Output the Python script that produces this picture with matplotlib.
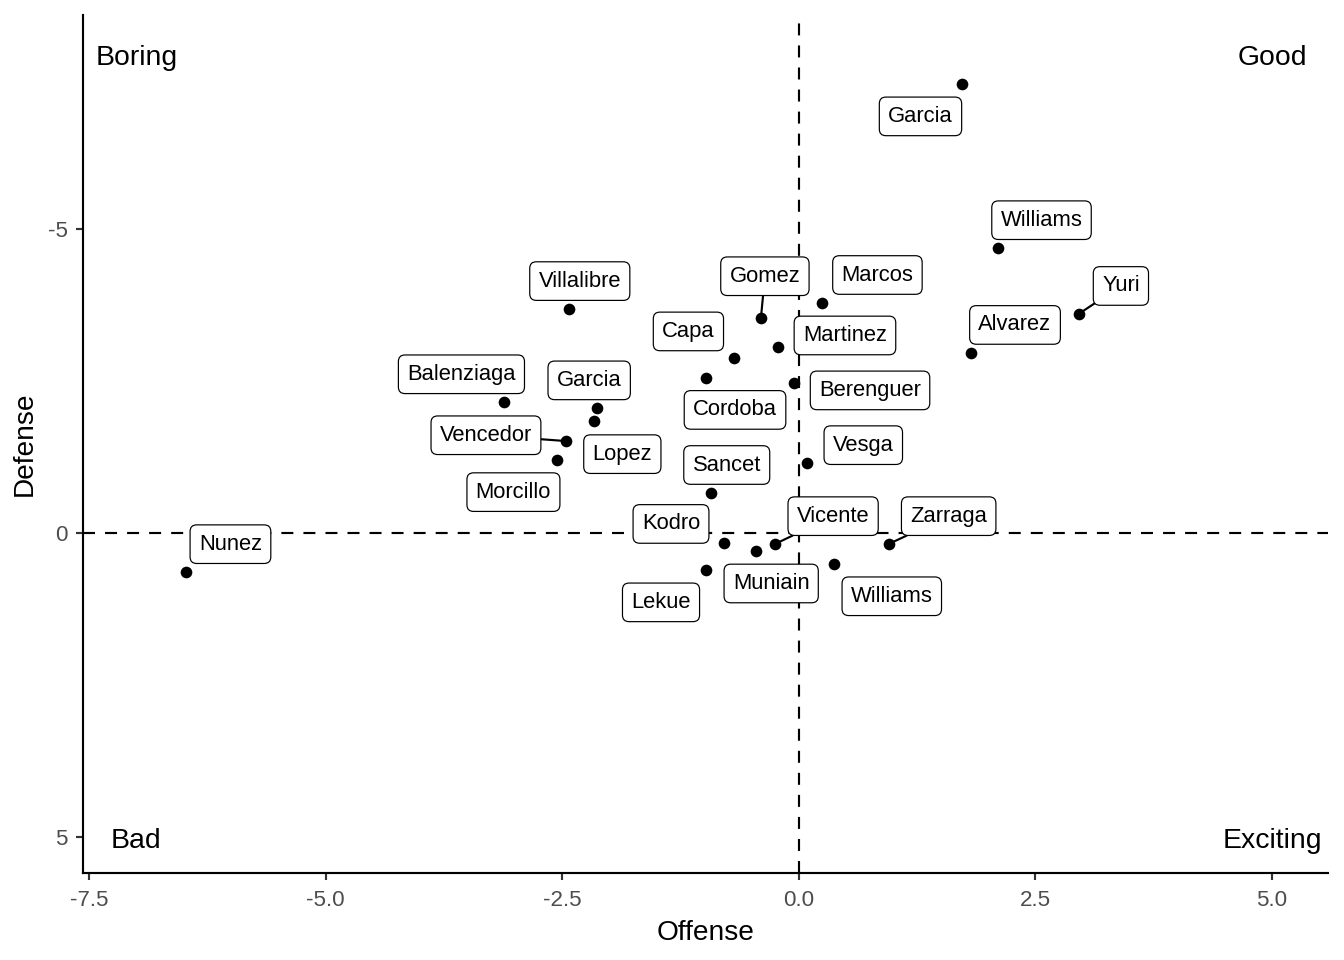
import matplotlib
matplotlib.use("Agg")
import matplotlib.pyplot as plt

plt.rcParams['font.family'] = ['Liberation Sans', 'DejaVu Sans']

names = ["Garcia", "Williams", "Yuri", "Alvarez", "Marcos", "Gomez", "Martinez",
         "Capa", "Villalibre", "Cordoba", "Berenguer", "Balenziaga", "Garcia",
         "Lopez", "Vencedor", "Morcillo", "Vesga", "Sancet", "Kodro", "Vicente",
         "Muniain", "Zarraga", "Williams", "Lekue", "Nunez"]
offense = [1.73, 2.10, 2.96, 1.82, 0.25, -0.40, -0.22,
           -0.68, -2.43, -0.98, -0.05, -3.11, -2.13,
           -2.16, -2.46, -2.55, 0.09, -0.93, -0.79, -0.25,
           -0.45, 0.95, 0.37, -0.98, -6.47]
defense = [-7.37, -4.68, -3.60, -2.96, -3.78, -3.53, -3.05,
           -2.87, -3.68, -2.55, -2.46, -2.15, -2.05,
           -1.84, -1.51, -1.20, -1.15, -0.66, 0.16, 0.18,
           0.30, 0.18, 0.51, 0.61, 0.64]

# label offsets (pixels, +y down) as placed by the repel algorithm
label_dx = [-42, 44, 42, 44, 55, 4, 67, -46, 11, 29, 76, -43, -8,
            28, -80, -44, 56, 16, -53, 58, 15, 60, 58, -45, 44]
label_dy = [31, -29, -29, -29, -29, -43, -13, -28, -29, 31, 6, -29, -29,
            32, -7, 31, -19, -29, -20, -29, 31, -29, 31, 31, -29]
segment = [False, False, True, False, False, True, False, False, False, False,
           False, False, False, False, True, False, False, False, False, True,
           False, True, False, False, False]

quad_text = ["Boring", "Good", "Bad", "Exciting"]
quad_x = [-7.0, 5.0, -7.0, 5.0]
quad_y = [-7.80, -7.80, 5.06, 5.06]

fig = plt.figure(figsize=(1344/144, 960/144), dpi=144)
ax = fig.add_axes([83/1344, 1-873/960, (1328-83)/1344, (873-15)/960])

dash = (0, (5.6, 4.7))
ax.axhline(0, color='black', lw=1.07, linestyle=dash, zorder=1)
ax.axvline(0, color='black', lw=1.07, linestyle=dash, zorder=1)

ax.scatter(offense, defense, s=34, color='black', zorder=3, linewidths=0)

for n, x, y, dx, dy, seg in zip(names, offense, defense, label_dx, label_dy, segment):
    kw = {}
    if seg:
        kw['arrowprops'] = dict(arrowstyle='-', color='black', lw=1.07,
                                shrinkA=0, shrinkB=0)
    ax.annotate(n, xy=(x, y), xytext=(dx / 2, -dy / 2 - 0.6), textcoords='offset points',
                ha='center', va='center', fontsize=11, color='black', zorder=4,
                bbox=dict(boxstyle='round,pad=0.4,rounding_size=0.3',
                          fc='white', ec='black', lw=0.6), **kw)

for t, x, y in zip(quad_text, quad_x, quad_y):
    ax.text(x, y, t, ha='center', va='center', fontsize=14.2, color='black')

ax.set_xlim(-7.563, 5.592)
ax.set_ylim(5.583, -8.506)
ax.set_xticks([-7.5, -5.0, -2.5, 0.0, 2.5, 5.0])
ax.set_xticklabels(["-7.5", "-5.0", "-2.5", "0.0", "2.5", "5.0"])
ax.set_yticks([-5, 0, 5])
ax.set_yticklabels(["-5", "0", "5"])

for s in ['top', 'right']:
    ax.spines[s].set_visible(False)
for s in ['left', 'bottom']:
    ax.spines[s].set_linewidth(1.07)
    ax.spines[s].set_color('black')
ax.tick_params(axis='both', length=3.5, width=1.07, color='#333333',
               labelsize=11.2, labelcolor='#4d4d4d')
ax.tick_params(axis='x', pad=5.0)
ax.tick_params(axis='y', pad=4.0)

ax.set_xlabel("Offense", fontsize=14, labelpad=4.5)
ax.set_ylabel("Defense", fontsize=14, labelpad=5)

fig.savefig("out.png", dpi=144)
